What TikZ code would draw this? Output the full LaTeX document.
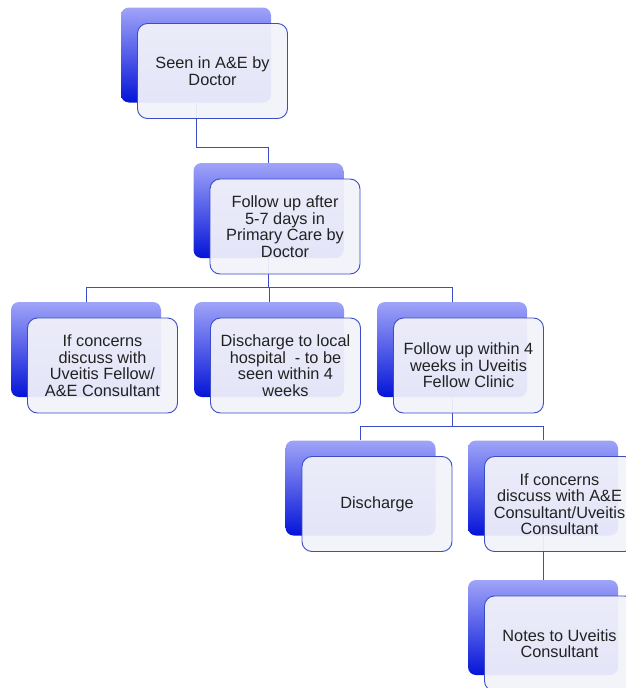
\documentclass[tikz,border=0pt]{standalone}
\usepackage{fontspec}
\setmainfont{Liberation Sans}
\definecolor{lineblue}{HTML}{3A4CC8}
\definecolor{backtop}{HTML}{A0A4F8}
\definecolor{backbot}{HTML}{0414D8}
\definecolor{frontfill}{HTML}{F2F2FA}
\definecolor{txt}{HTML}{222222}
\begin{document}
\begin{tikzpicture}[x=1pt,y=1pt,
  backbox/.style={rectangle, rounded corners=8pt, minimum width=150pt, minimum height=95pt, inner sep=0pt, top color=backtop, bottom color=backbot, draw=none},
  frontbox/.style={rectangle, rounded corners=10pt, minimum width=150pt, minimum height=95pt, inner sep=2pt, draw=lineblue, line width=0.9pt, fill=frontfill, fill opacity=0.94, text opacity=1, text=txt, align=center, font=\fontsize{16.3}{16.5}\selectfont},
  conn/.style={draw=lineblue, line width=1pt}]
\useasboundingbox (0,0) rectangle (625,-688);
% back boxes
\node[backbox] (b1) at (196,-55) {};
\node[backbox] (b2) at (268.5,-210.5) {};
\node[backbox] (b3) at (86,-349.5) {};
\node[backbox] (b4) at (269,-349.5) {};
\node[backbox] (b5) at (452,-349.5) {};
\node[backbox] (b6) at (360.5,-488) {};
\node[backbox] (b7) at (543,-488) {};
\node[backbox] (b8) at (543,-627.5) {};
% connectors
\draw[conn] (b1.south) -- ++(0,-44.5) -| (b2.north);
\draw[conn] (b2.south) -- ++(0,-29) -| (b3.north);
\draw[conn] (b2.south) -- ++(0,-29) -| (b4.north);
\draw[conn] (b2.south) -- ++(0,-29) -| (b5.north);
\draw[conn] (b5.south) -- ++(0,-29) -| (b6.north);
\draw[conn] (b5.south) -- ++(0,-29) -| (b7.north);
\draw[conn] (b7.south) -- (b8.north);
% front boxes
\node[frontbox] (f1) at ([shift={(16.5,-16)}]b1.center) {Seen in A\&E by\\Doctor};
\node[frontbox] (f2) at ([shift={(16.5,-16)}]b2.center) {Follow up after\\5-7 days in\\Primary Care by\\Doctor};
\node[frontbox] (f3) at ([shift={(16.5,-16)}]b3.center) {If concerns\\discuss with\\Uveitis Fellow/\\A\&E Consultant};
\node[frontbox] (f4) at ([shift={(16.5,-16)}]b4.center) {Discharge to local\\hospital \ - to be\\seen within 4\\weeks};
\node[frontbox] (f5) at ([shift={(16.5,-16)}]b5.center) {Follow up within 4\\weeks in Uveitis\\Fellow Clinic};
\node[frontbox] (f6) at ([shift={(16.5,-16)}]b6.center) {Discharge};
\node[frontbox] (f7) at ([shift={(16.5,-16)}]b7.center) {If concerns\\discuss with A\&E\\Consultant/Uveitis\\Consultant};
\node[frontbox] (f8) at ([shift={(16.5,-16)}]b8.center) {Notes to Uveitis\\Consultant};
\end{tikzpicture}
\end{document}
